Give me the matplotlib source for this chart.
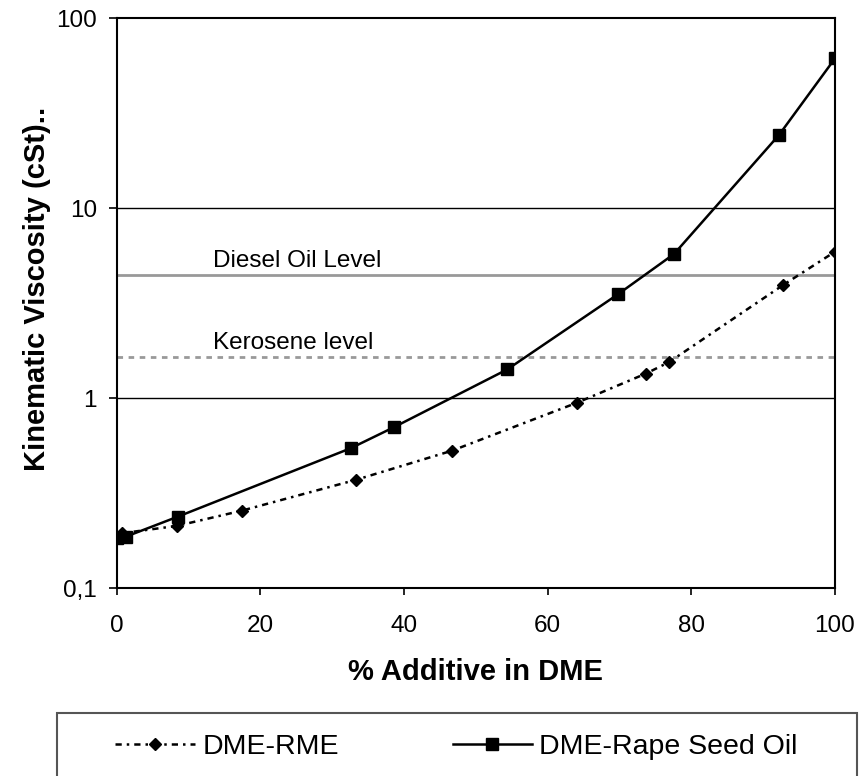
import matplotlib.pyplot as plt
from matplotlib.patches import Rectangle

plt.rcParams['font.family'] = ['Liberation Sans', 'DejaVu Sans']

# DME-RME blend (diamonds)
rme_pct = [0, 0.8, 8.4, 17.4, 33.3, 46.7, 64.1, 73.7, 76.9, 92.8, 100]
rme_visc = [0.185, 0.195, 0.213, 0.256, 0.372, 0.530, 0.948, 1.35, 1.55, 3.95, 5.91]

# DME-Rape Seed Oil blend (squares)
rso_pct = [0, 1.3, 8.5, 32.6, 38.6, 54.4, 69.8, 77.6, 92.2, 100]
rso_visc = [0.185, 0.187, 0.238, 0.546, 0.704, 1.42, 3.53, 5.75, 24.3, 61.5]

# reference levels
diesel_level = 4.46
kerosene_level = 1.64

x_ticks = [0, 20, 40, 60, 80, 100]
y_ticks = [0.1, 1, 10, 100]
y_tick_labels = ['0,1', '1', '10', '100']

fig = plt.figure(figsize=(8.59, 7.76), dpi=100)
ax = fig.add_axes([116.5 / 859, 1 - 588.3 / 776, (835 - 116.5) / 859, (588.3 - 18.3) / 776])

ax.set_yscale('log')
ax.set_xlim(0, 100)
ax.set_ylim(0.1, 100)

# grid lines at decades
for v in [1, 10]:
    ax.axhline(v, color='black', lw=1, zorder=1)

ax.axhline(diesel_level, color='#999999', lw=2, zorder=1)
ax.axhline(kerosene_level, color='#999999', lw=2, ls=(0, (2, 2)), zorder=1)
ax.text(13.5, diesel_level * 1.04, 'Diesel Oil Level', fontsize=17.5, va='bottom', ha='left')
ax.text(13.5, kerosene_level * 1.04, 'Kerosene level', fontsize=17.5, va='bottom', ha='left')

ax.plot(rme_pct, rme_visc, color='black', lw=1.8, ls=(0, (2.5, 2, 1, 2)),
        marker='D', markersize=6, label='DME-RME', zorder=3)
ax.plot(rso_pct, rso_visc, color='black', lw=1.8, ls='-',
        marker='s', markersize=8, label='DME-Rape Seed Oil', zorder=4)

ax.set_xticks(x_ticks)
ax.set_yticks(y_ticks)
ax.set_yticklabels(y_tick_labels)
ax.minorticks_off()
ax.tick_params(axis='both', direction='out', width=1.2, labelsize=17.5)
ax.tick_params(axis='x', length=5, pad=14.5)
ax.tick_params(axis='y', length=6, pad=8)
for sp in ax.spines.values():
    sp.set_linewidth(1.5)

ax.set_xlabel('% Additive in DME', fontsize=21, fontweight='bold')
ax.set_ylabel('Kinematic Viscosity (cSt)..', fontsize=21, fontweight='bold')
ax.xaxis.set_label_coords(0.5, (588.3 - 658) / 570)
ax.yaxis.set_label_coords((51 - 116.5) / 718.5, (588.3 - 289) / 570)

# legend box runs off the bottom edge, as in the original
fig.patches.append(Rectangle((56.7 / 859, -0.05), (856.7 - 56.7) / 859, 0.05 + 1 - 713.5 / 776,
                             transform=fig.transFigure, fill=False, edgecolor='#555555', lw=1.5))
fig.legend(loc='center left', bbox_to_anchor=(104 / 859, 1 - 746.7 / 776), ncol=2, frameon=False,
           fontsize=20.5, handlelength=2.8, handletextpad=0.25, columnspacing=4.0, borderaxespad=0)

fig.savefig('out.png', dpi=100)
